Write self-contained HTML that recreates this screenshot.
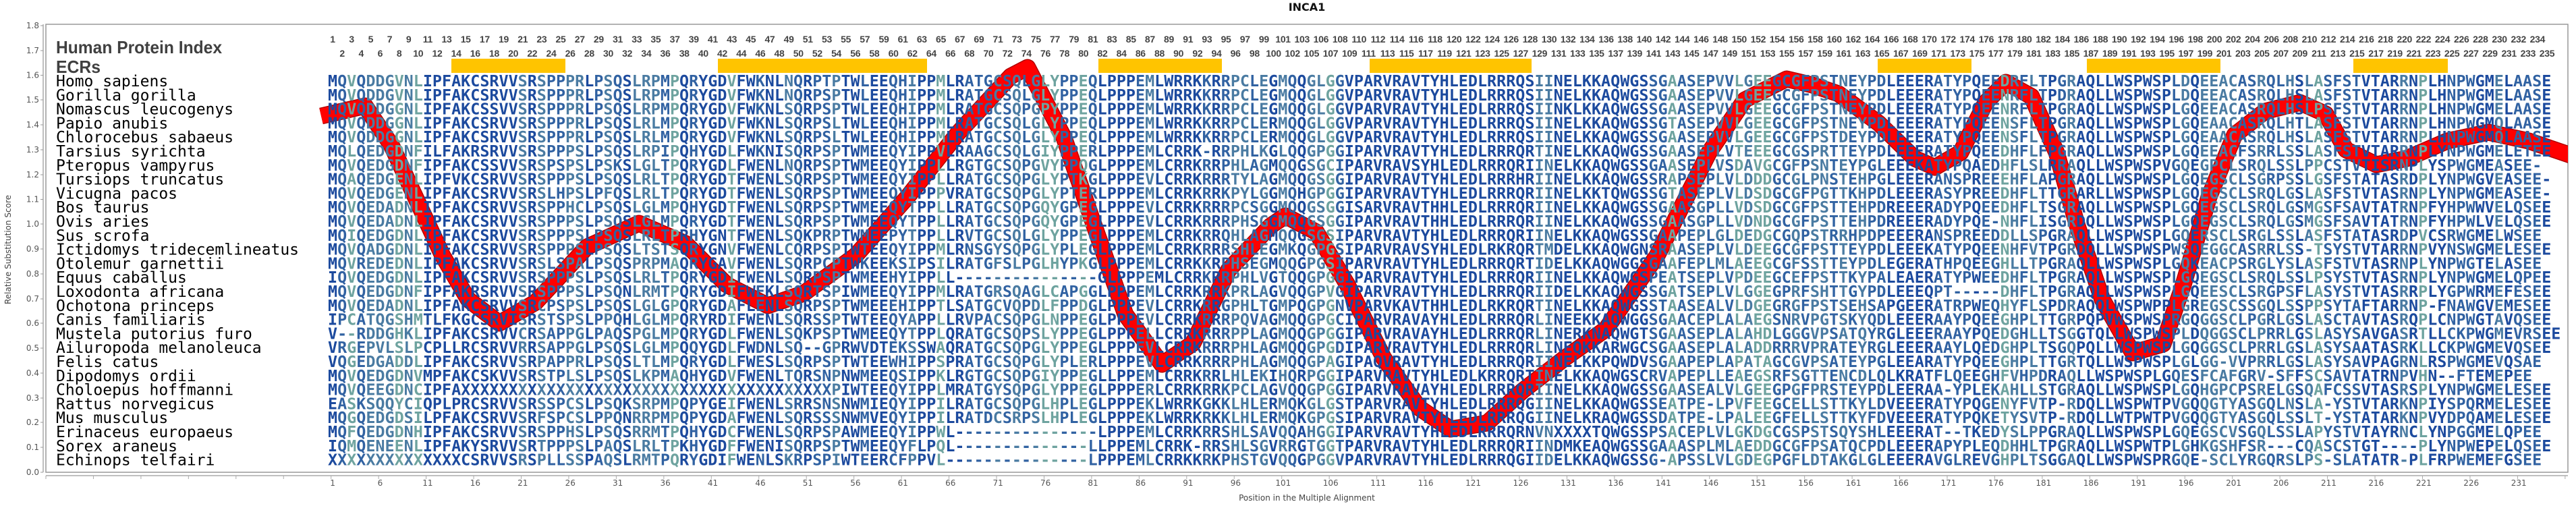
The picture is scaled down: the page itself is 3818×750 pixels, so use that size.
<!DOCTYPE html>
<html><head><meta charset="utf-8">
<style>
html,body{margin:0;padding:0;background:#fff;}
#wrap{position:relative;width:3818px;height:750px;overflow:hidden;background:#fff;}
svg{position:absolute;left:0;top:0;}
.idx{position:absolute;display:flex;font-family:"Liberation Sans Narrow","Liberation Sans",sans-serif;font-weight:bold;font-size:14px;color:#444;line-height:16px;}
.idx span{display:block;width:28.18px;text-align:center;flex:none;white-space:nowrap;letter-spacing:-0.3px;}
.xl{position:absolute;display:flex;top:709px;left:457.8px;font-family:"DejaVu Sans","Liberation Sans",sans-serif;font-size:12px;color:#555;line-height:14px;}
.xl span{display:block;width:70.45px;text-align:center;flex:none;}
</style></head><body><div id="wrap">
<svg width="3818" height="750" xmlns="http://www.w3.org/2000/svg">
<defs>
<linearGradient id="cg" gradientUnits="userSpaceOnUse" x1="486" y1="0" x2="3797" y2="0"></linearGradient>
<clipPath id="pc"><rect x="68" y="36" width="3738" height="664"/></clipPath>
</defs>
<text x="1937" y="16" text-anchor="middle" font-family="DejaVu Sans, Liberation Sans, sans-serif" font-weight="bold" font-size="16" fill="#111">INCA1</text>
<rect x="68" y="36" width="3738" height="664" fill="none" stroke="#999" stroke-width="1.5"/>
<line x1="64" y1="36" x2="64" y2="700" stroke="#aaa" stroke-width="1.5"/>
<line x1="68" y1="705" x2="3806" y2="705" stroke="#aaa" stroke-width="1.5"/>
<g stroke="#999" stroke-width="1">
<line x1="60" y1="38" x2="64" y2="38"/><line x1="60" y1="75" x2="64" y2="75"/><line x1="60" y1="111.5" x2="64" y2="111.5"/><line x1="60" y1="148" x2="64" y2="148"/><line x1="60" y1="185" x2="64" y2="185"/><line x1="60" y1="222" x2="64" y2="222"/><line x1="60" y1="259" x2="64" y2="259"/><line x1="60" y1="295.5" x2="64" y2="295.5"/><line x1="60" y1="332" x2="64" y2="332"/><line x1="60" y1="369" x2="64" y2="369"/><line x1="60" y1="406" x2="64" y2="406"/><line x1="60" y1="443" x2="64" y2="443"/><line x1="60" y1="479" x2="64" y2="479"/><line x1="60" y1="516" x2="64" y2="516"/><line x1="60" y1="553" x2="64" y2="553"/><line x1="60" y1="590" x2="64" y2="590"/><line x1="60" y1="626" x2="64" y2="626"/><line x1="60" y1="663" x2="64" y2="663"/><line x1="60" y1="700" x2="64" y2="700"/>
</g>
<g font-family="DejaVu Sans, Liberation Sans, sans-serif" font-size="12" fill="#555" text-anchor="end">
<text x="58" y="42">1.8</text><text x="58" y="79">1.7</text><text x="58" y="115.5">1.6</text><text x="58" y="152">1.5</text><text x="58" y="189">1.4</text><text x="58" y="226">1.3</text><text x="58" y="263">1.2</text><text x="58" y="299.5">1.1</text><text x="58" y="336">1.0</text><text x="58" y="373">0.9</text><text x="58" y="410">0.8</text><text x="58" y="447">0.7</text><text x="58" y="483">0.6</text><text x="58" y="520">0.5</text><text x="58" y="557">0.4</text><text x="58" y="594">0.3</text><text x="58" y="630">0.2</text><text x="58" y="667">0.1</text><text x="58" y="704">0.0</text>
</g>
<text transform="translate(16,370) rotate(-90)" text-anchor="middle" font-family="DejaVu Sans, Liberation Sans, sans-serif" font-size="12" fill="#444">Relative Substitution Score</text>
<text x="1937" y="742" text-anchor="middle" font-family="DejaVu Sans, Liberation Sans, sans-serif" font-size="12" fill="#444">Position in the Multiple Alignment</text>
<g id="xt" stroke="#aaa" stroke-width="1"></g>
<g fill="#ffc400">
<rect x="669" y="87" width="169" height="21"/>
<rect x="1064" y="87" width="310" height="21"/>
<rect x="1628" y="87" width="183" height="21"/>
<rect x="2030" y="87" width="240" height="21"/>
<rect x="2783" y="87" width="139" height="21"/>
<rect x="3093" y="87" width="198" height="21"/>
<rect x="3488" y="87" width="140" height="21"/>
</g>
<text x="83" y="79" font-family="Liberation Sans Narrow, Liberation Sans, sans-serif" font-weight="bold" font-size="26" fill="#404040" textLength="246" lengthAdjust="spacingAndGlyphs">Human Protein Index</text>
<text x="83" y="108" font-family="Liberation Sans Narrow, Liberation Sans, sans-serif" font-weight="bold" font-size="26" fill="#404040" textLength="66" lengthAdjust="spacingAndGlyphs">ECRs</text>
<g clip-path="url(#pc)">
<polyline fill="none" stroke="#b00000" stroke-width="25" stroke-linejoin="round" points="476,172 541,157 580,215 610,280 656,379 694,444 740,479 794,448 870,366 947,331 1016,361 1077,422 1138,453 1191,435 1268,379 1345,292 1421,196 1498,113 1523,100 1577,204 1622,335 1668,466 1722,540 1768,509 1821,400 1883,335 1905,320 1951,344 1997,422 2051,531 2104,605 2150,636 2204,627 2257,579 2319,531 2380,488 2456,379 2533,226 2586,148 2648,117 2686,126 2725,139 2785,183 2838,235 2868,248 2906,226 2943,152 2973,122 3011,143 3048,226 3079,335 3116,444 3161,523 3206,510 3236,422 3274,292 3312,200 3357,165 3409,152 3447,169 3477,222 3522,244 3567,235 3627,209 3688,196 3748,209 3810,230"/>
<polyline fill="none" stroke="#ff0000" stroke-width="22" stroke-linejoin="round" points="476,172 541,157 580,215 610,280 656,379 694,444 740,479 794,448 870,366 947,331 1016,361 1077,422 1138,453 1191,435 1268,379 1345,292 1421,196 1498,113 1523,100 1577,204 1622,335 1668,466 1722,540 1768,509 1821,400 1883,335 1905,320 1951,344 1997,422 2051,531 2104,605 2150,636 2204,627 2257,579 2319,531 2380,488 2456,379 2533,226 2586,148 2648,117 2686,126 2725,139 2785,183 2838,235 2868,248 2906,226 2943,152 2973,122 3011,143 3048,226 3079,335 3116,444 3161,523 3206,510 3236,422 3274,292 3312,200 3357,165 3409,152 3447,169 3477,222 3522,244 3567,235 3627,209 3688,196 3748,209 3810,230"/>
</g>
<text font-family="DejaVu Sans Mono, Liberation Mono, monospace" font-size="23" fill="#000">
<tspan x="83" y="128">Homo sapiens</tspan><tspan x="83" dy="20.8">Gorilla gorilla</tspan><tspan x="83" dy="20.8">Nomascus leucogenys</tspan><tspan x="83" dy="20.8">Papio anubis</tspan><tspan x="83" dy="20.8">Chlorocebus sabaeus</tspan><tspan x="83" dy="20.8">Tarsius syrichta</tspan><tspan x="83" dy="20.8">Pteropus vampyrus</tspan><tspan x="83" dy="20.8">Tursiops truncatus</tspan><tspan x="83" dy="20.8">Vicugna pacos</tspan><tspan x="83" dy="20.8">Bos taurus</tspan><tspan x="83" dy="20.8">Ovis aries</tspan><tspan x="83" dy="20.8">Sus scrofa</tspan><tspan x="83" dy="20.8">Ictidomys tridecemlineatus</tspan><tspan x="83" dy="20.8">Otolemur garnettii</tspan><tspan x="83" dy="20.8">Equus caballus</tspan><tspan x="83" dy="20.8">Loxodonta africana</tspan><tspan x="83" dy="20.8">Ochotona princeps</tspan><tspan x="83" dy="20.8">Canis familiaris</tspan><tspan x="83" dy="20.8">Mustela putorius furo</tspan><tspan x="83" dy="20.8">Ailuropoda melanoleuca</tspan><tspan x="83" dy="20.8">Felis catus</tspan><tspan x="83" dy="20.8">Dipodomys ordii</tspan><tspan x="83" dy="20.8">Choloepus hoffmanni</tspan><tspan x="83" dy="20.8">Rattus norvegicus</tspan><tspan x="83" dy="20.8">Mus musculus</tspan><tspan x="83" dy="20.8">Erinaceus europaeus</tspan><tspan x="83" dy="20.8">Sorex araneus</tspan><tspan x="83" dy="20.8">Echinops telfairi</tspan>
</text>
<text font-family="DejaVu Sans Mono, Liberation Mono, monospace" font-weight="bold" font-size="23.4" fill="url(#cg)" xml:space="preserve">
<tspan x="486" y="128">MQVQDDGVNLIPFAKCSRVVSRSPPPRLPSQSLRPMPQRYGDVFWKNLNQRPTPTWLEEQHIPPMLRATGCSQLGLYPPEQLPPPEMLWRRKKRRPCLEGMQQGLGGVPARVRAVTYHLEDLRRRQSIINELKKAQWGSSGAASEPVVLGEEGCGFPSTNEYPDLEEERATYPQEEDRFLTPGRAQLLWSPWSPLDQEEACASRQLHSLASFSTVTARRNPLHNPWGMELAASE</tspan>
<tspan x="486" dy="20.8">MQVQDDGVNLIPFAKCSRVVSRSPPPRLPSQSLRPMPQRYGDVFWKNLNQRPSPTWLEEQHIPPMLRATGCSQLGLYPPEQLPPPEMLWRRKKRRPCLEGMQQGLGGVPARVRAVTYHLEDLRRRQSIINELKKAQWGSSGAASEPVVLGEEGCGFPSTNEYPDLEEERATYPQEENRFLTPDRAQLLWSPWSPLDQEEACASRQLHSLASFSTVTARRNPLHNPWGMELAASE</tspan>
<tspan x="486" dy="20.8">MQVQDDGGNLIPFAKCSSVVSRSPPPRLPSQSLRPMPQRYGDVFWKNLSQRPSPTWLEEQHIPPMLRATGCSQPGPYPPEQLPPPEMLWRRKKRRPCLEGMQQGLGGVPARVRAVTYHLEDLRRRQSIINKLKKAQWGSSGAASEPVVLGEEGCGFPSTNEYPDLEEERATYPQEENRFLTPGRAQLLWSPWSPLGQEEACASRQLHSLPSFSTVTARRNPLHNPWGMELAASE</tspan>
<tspan x="486" dy="20.8">MQVQDDGGNLIPFAKCSRVVSRSPPPRLPSQSLRLMPQRYGDVFWKNLSQRPSLTWLEEQHIPPMLRATGCSQLGLYPPEQLPPPEMLWRRKKRRPCLERMQQGLGGVPARVRAVTYHLEDLRRRQSIINELKKAQWGSSGTASEPVVLGEEGCGFPSTNEYPDLEEERATYPQEENSFLTPGRAQLLWSPWSPLGQEAACASRQLHTLASFSTVTARRNPLHNPWGMQLAASE</tspan>
<tspan x="486" dy="20.8">MQVQDDGGNLIPFAKCSRVVSRSPPPRLPSQSLRLMPQRYGDVFWKNLSQRPSLTWLEEQHIPPMLRATGCSQLGLYPPEQLPPPEMLWRRKKRRPCLERMQQGLGGVPARVRAVTYHLEDLRRRQSIINELKKAQWGSSGAASEPVVLGEEGCGFPSTDEYPDLEEERATYPQEENSFLTPGRAQLLWSPWSPLGQEAACASRQLHSLASFSTVTARRNPLHNPWGMQLAASE</tspan>
<tspan x="486" dy="20.8">MQLQEDGDNFILFAKRSRVVSRSPPPSLPSQSLRPIPQHYGDLFWKNISQRPSPTWMEEQYIPPVLRAAGCSQLGIYPPERLPPPEMLCRRK-RRPHLKGLQQGPGGIPARVRAVTYHLEDLRRRQRTINELKKAQWGSSGAASEPLVTEEEGCGSPRTTEYPDLEEERATYPQEEDHFLFPGRAQLLWSPWSPLGQEEACFSRRLSSLASFSTVTARRNPLYNPWGMELETEE</tspan>
<tspan x="486" dy="20.8">MQVQEDGDNFIPFAKCSSVVSRSPSPSLPSKSLGLTPQRYGDLFWENLNQRPSPTWMEEQYIPPLLRGTGCSQPGVYPPQGLPPPEMLCRRKRRPHLAGMQQGSGCIPARVRAVSYHLEDLRRRQRIINELKKAQWGSSGAASEPLVSDAVGCGFPSNTEYPGLEEEKATYPQAEDHFLSLRRAQLLWSPWSPVGQEGPCLSRQLSSLPPCSTVTISRNPLYSPWGMEASEE-</tspan>
<tspan x="486" dy="20.8">MQAQEDGENLIPFVKCSRVVSRSPPPSLPSQSLRLTPQRYGDTFWENLSQRPSPTWMEEQYIPPLLRATGCSQPGLYPTKGLPPPEVLCRRKRRRTYLAGMQQGSGGIPARVRAVTYHLEDLRRRHRIINELKKAQWGSSRAPSEPLVLDDDGCGLPNSTEHPGLEEERANSPREEEHFLAPGRAQLLWSPWSPLGQEGSCLSGRPSSLGSFSTATASRDPLYNPWGVEASEE-</tspan>
<tspan x="486" dy="20.8">MQVQEDGENLIPFAKCSRVVSRSLHPSLPFQSLRLTPQRYGDTFWENLSQRPSPTWMEEQYIPPPVRATGCSQPGLYPTERLPPPEMLCRRKRRKPYLGGMQHGPGGIPARVRAVTYHLEDLRRRQRIINELKKTQWGSSGTASEPLVLDSDGCGFPGTTKHPDLEEERASYPREEDHFLTTGRARLLWSPWSPLGQEGSCLSRQLGSLASFSTVTASRNPLYNPWGMEASEE-</tspan>
<tspan x="486" dy="20.8">MQVQEDADNLIPFAKCSRVVSRSPPHCLPSQSLGLMPQHYGDTFWENLSQRPSPTWMEEQYTPPLLRATGCSQPGQYGPEGLPPPEVLCRRKRRRPCSGGMQQGSGGISARVRAVTHHLEDLRRRQRIINELKKAQWGSSGAASGPLLVDSDGCGFPSTTEHPDREEERADYPQEEDHFLTSGRAQLLWSPWSPLGQEGSCLSRQLGSMGSFSAVTATRNPFYHPWWVELQSEE</tspan>
<tspan x="486" dy="20.8">MQVQEDADNLIPFAKCSRVVSRSPPPSLPSQSLGLMPQRYGDTFWENLSQRPSPTWMEEQYTPPLLRATGCSQPGQYGPEGLPPPEVLCRRKRRRPHSGGMQQGSGGIPARVRAVTHHLEDLRRRQRIINELKKAQWGSSGAASGPLLVDNDGCGFPSTTEHPDREEERADYPQE-NHFLISGRDQLLWSPWSPLGQEGSCLSRQLGSMGSFSAVTATRNPFYHPWLVELQSEE</tspan>
<tspan x="486" dy="20.8">MQIQEDGDNLIPFAKCSRVVSRSPPPSLPSQSLRLTPRHYGNTFWENLSQKPRPTWMEEPYTPPLLRVTGCSQLGLYPPEGLPPPEMLCRRKRRQHLAGMQQGSGSIPARVRAVTYHLEDLRRRQRIINELKKAQWGSSGAAPEPLGLDEDGCGQPSTRRHPDPEEERANSPREEDDLLSPGRAQLLWSPWSPLGQERSCLSRGLSSLASFSTATASRDPVCSRWGMELWSEE</tspan>
<tspan x="486" dy="20.8">MQVQADGDNLIPFAKCSRVVSRSPPPSLPSQSLTSTSQRYGNVFWENLCQRPSPTWTEEQYIPPMLRNSGYSQPGLYPLEGLPPPEMLCRRKRRRSHLEGMKQGPGSIPARVRAVSYHLEDLRKRQRTMDELKKAQWGNSRAASEPLVLDEEGCGFPSTTEYPDLEEEKATYPQEENHFVTPGRDQLLWSPWSPWSQEGGCASRRLSS-TSYSTVTARRNPVYNSWGMELESEE</tspan>
<tspan x="486" dy="20.8">MQVREDEDNLIPFAKCSRVVSRSLSPALPSQSPRPMAQRYGAVFWENLSQRPCPTWKEEKSIPSILRATGFSLPGLHYPKGLPPPEMLCRRKKRPHSEGMQQGPGSIPARVRAVTYHLEDLRRRQRTIDELKKAQWGGSGAAFEPLMLAEEGCGFSSTTEYPDLEGERATHPQEEGHLLTPGRAQLLWSPWSPLGQKEACPSRGLYSLASFSTVTASRNPLYNPWGTELASEE</tspan>
<tspan x="486" dy="20.8">IQVQEDGDNLIPFAKCSRVVSRSPPPSLPSQSLRLTPQRYGDIFWENLSQRPSPTWMEEHYIPPLL---------------GLPPPEMLCRRKRRPHLVGTQQGPGGIPARVRAVTYHLEDLRRRQRIINELKKAQWGSPEATSEPLVPDEEGCEFPSTTKYPALEAERATYPWEEDHFLTPGRAQLLWSPWSPLGQEGSCLSRQLSSLPSYSTVTASRNPLYNPWGMELQPEE</tspan>
<tspan x="486" dy="20.8">MQVQEDGDNFIPFAKRSRVVSRSPPPSLPSQNLRMTPQRYGDIFWEKLSQRTSPIWMEEQYIPPMLRATGRSQAGLCAPGGLPPPEMLCRRKRRKPRLAGVQQGPVGIPARVRAVTYHLEDLRRRQRIIDELKKAQWGSSGATSEPLVLGGEGPRFSHTTGYPDLEEEQPT-----DHFLTPGRAQLLWSPWSPLGQEESCLSRGPSFLASYSTVTASRRPLYGPWRMEFESEE</tspan>
<tspan x="486" dy="20.8">MQVQEDADNLIPFAKCSRVVSRCPSPSLPSQSLGLGPQRYGDAFLENLSQRPSPTWMEEEHIPPTLSATGCVQPDLFPPDGLPPPEVLCRRKRRGPHLTGMPQGPGNVPARVKAVTHHLEDLRKRQRTINELKKAQWGSSTAASEALVLDGEGRGFPSTSEHSAPGEERATRPWEQHYFLSPDRAQQLWSPWPPLGREGSCSSGQLSSPPSYTAFTARRNP-FNAWGVEMESEE</tspan>
<tspan x="486" dy="20.8">IPCATQGSHMTLFKGCSRVISRSTSPSLPPQHLGLMPQRYRDIFWENLSQRSSPTWTEEQYAPPLLRVPACSQPGLNPPEGLPPPEVLCRRKRRRPQVAGMQQGPGCIPARVRAVAYHLEDLRRRQRLINEEKKAQWGGSGAACEPLALAEGSNRVPGTSKYQDLEEERAAYPQEEGHPLTTGRPQPVWSPWSPRGQGGSCLPGRLGSLASCTAVTASRQPLCNPWGTAVQSEE</tspan>
<tspan x="486" dy="20.8">V--RDDGHKLIPFAKCSRVVCRSAPPGLPAQSPGLMPQRYGDLFWENLSQKPSPTWMEEQYTPPLQRATGCSQPSLYPPEGLPPPELLCRRKRRRPPLAGMQQGPGGIPARVRAVAYHLEDLRRRQRLINERKNAQWGTSGAASEPLALAHDLGGGVPSATQYRGLEEERAAYPQEDGHLLTSGGTQLLWSPWSPLDQGGSCLPRRLGSLASYSAVGASRTLLCKPWGMEVRSEE</tspan>
<tspan x="486" dy="20.8">VRGEPVLSLPCPLLRCSRVVRRSAPPGLPSQSLGLMPQQYGDLFWDNLSQ--GPRWVDTEKSSWAQRATGCSQPGLYPPEGLPPPEVLCRRKRRRPHLAGMQQGPGDIPARVRAVTYHLEDLRRRQRLINEQKKARWGCSGAASEPLALADDRRRVPRATEYRGLEEERAAYLQEDGHPLTSGQPQLLWSPWSPLGQGGSCLPRRLGSLASYSAATASRKLLCKPWGMEVQSEE</tspan>
<tspan x="486" dy="20.8">VQGEDGADDLIPFAKCSRVVSRPAPPRLPSQSLTLMPQRYGDLFWESLSQRPSPTWTEEWHIPPSPRATGCSQPGLYPLERLPPPEVLCRRKRRRPHLAGMQQGPAGIPAQVRAVTYHLEDLRRRQRIINELKKPQWDVSGAAPEPLAPATAGCGVPSATEYPGLEEARATYPQEEGHPLTTGRTQLLWSPWSPLGLGG-VVPRRLGSLASYSAVPAGRNLRSPWGMEVQSAE</tspan>
<tspan x="486" dy="20.8">MQVQEDGDNVMPFAKCSKVVSRSTPLSLPSQSLKPMAQHYGDVFWENLTQRSNPNWMEEQSIPPKLRGTGCSQPGIYPPEGLLPPEMLCRRKRRLHLEKIHQRPGGIPARVRAVTYHLEDLKRRQRTINELKKAQWGSCRVAPEPLLEAEGSRFSGTTENCDLQLKRATFLQEEGHFVHPDRAQLLWSPWSPLGQESFCAFGRV-SFFSCSAVTATRNPVHN--FTEMEPEE</tspan>
<tspan x="486" dy="20.8">MQVQEEGDNCIPFAXXXXXXXXXXXXXXXXXXXXXXXXXXXXXXXXXXXXXXXPIWTEEQYIPPLMRATGYSQPGLYPPEGLPPPERLCRRKRRKPCLAGVQQGPGGIPARVRAVAYHLEDLRRRQRIINELKKAQWGSSGAASEALVLGEEGPGFPRSTEYPDLEERAA-YPLEKAHLLSTGRAQLLWSPWSPLGQHGPCPSRELGSQAFCSSVTASRSPLYNPWGMELESEE</tspan>
<tspan x="486" dy="20.8">EASKSQQYCIQPLPRCSRVVSRSSPCSLPSQKSRPMPQPYGEIFWENLSRRSNSNWMIEQYIPPILRATGCSQPGLHPLEGLPPPEKLWRRKGKKLHLERMQKGLGSTPARVRAVTYHLEDLRRRQGIINELKKAQWGSSEATPE-LPVFEEGCELLSTTKYLDVEEERATYPQGENYFVTP-RDQLLWSPWTPVGQQGTYASGQLNSLA-YSTVTARKNPIYSPQRMELESEE</tspan>
<tspan x="486" dy="20.8">MQGQEDGDSILPFAKCSRVVSRFSPCSLPPQNRRPMPQPYGDAFWENLSQRSSSNWMVEQYIPPILRATDCSRPSLHPLEGLPPPEKLWRRKRKKLHLERMQKGPGSIPARVRAVTYHLEDLRRRQGIINELKRAQWGSSDATPE-LPALEEGFELLSTTKYFDVEEERATYPQKETYSVTP-RDQLLWTPWTPVGQQGTYASGQLSSLT-YSTATARKNPVYDPQAMELESEE</tspan>
<tspan x="486" dy="20.8">MQFQEDGDNHIPFAKCSRVVSRSPPHSLPSQSRRMTPQHYGDCFWENLSQRPSPAWMEEQYIPPWL---------------LPPPEMLCRRKRRSHLSAVQQAHGGIPARVRAVTYHLEDLRRRQRNVNXXXXTQWGSSPSACEPLVLGKDGCGSPSTSQYSHLEEERAT--TKEDYSLPPGRAQLLWSPWSPLGQEGSCVSGQLSSLAPYSTVTAYRNCLYNPGGMELQPEE</tspan>
<tspan x="486" dy="20.8">IQMQENEENLIPFAKYSRVVSRTPPPSLPAQSLRLTPKHYGDFFWENISQRPSPTWMEEQYFLPQL--------------LLPPEMLCRRK-RRSHLSGVRRGTGGTPARVRAVTYHLEDLRRRQRIINDMKEAQWGSSGAAASPLMLAEDDGCGFPSATQCPDLEEERAPYPLEQDHHLTPGRAQLLWSPWTPLGHKGSHFSR---CQASCSTGT----PLYNPWEPELQSEE</tspan>
<tspan x="486" dy="20.8">XXXXXXXXXXXXXXCSRVVSRSPLLSSPAQSLRMTPQRYGDIFWENLSKRPSPIWTEERCFPPVL---------------LPPPEMLCRRKKRKPHSTGVQQGPGGVPARVRAVTYHLEDLRRRQGIIDELKKAQWGSSG-APSSLVLGDEGPGFLDTAKGLGLEEERAVGLREVGHPLTSGGAQLLWSPWSPRGQE-SCLYRGQRSLPS-SLATATR-PLFRPWEMEFGSEE</tspan>
</text>
</svg>
<div class="idx" style="left:478.9px;top:50px;"><span>1</span><span>3</span><span>5</span><span>7</span><span>9</span><span>11</span><span>13</span><span>15</span><span>17</span><span>19</span><span>21</span><span>23</span><span>25</span><span>27</span><span>29</span><span>31</span><span>33</span><span>35</span><span>37</span><span>39</span><span>41</span><span>43</span><span>45</span><span>47</span><span>49</span><span>51</span><span>53</span><span>55</span><span>57</span><span>59</span><span>61</span><span>63</span><span>65</span><span>67</span><span>69</span><span>71</span><span>73</span><span>75</span><span>77</span><span>79</span><span>81</span><span>83</span><span>85</span><span>87</span><span>89</span><span>91</span><span>93</span><span>95</span><span>97</span><span>99</span><span>101</span><span>103</span><span>106</span><span>108</span><span>110</span><span>112</span><span>114</span><span>116</span><span>118</span><span>120</span><span>122</span><span>124</span><span>126</span><span>128</span><span>130</span><span>132</span><span>134</span><span>136</span><span>138</span><span>140</span><span>142</span><span>144</span><span>146</span><span>148</span><span>150</span><span>152</span><span>154</span><span>156</span><span>158</span><span>160</span><span>162</span><span>164</span><span>166</span><span>168</span><span>170</span><span>172</span><span>174</span><span>176</span><span>178</span><span>180</span><span>182</span><span>184</span><span>186</span><span>188</span><span>190</span><span>192</span><span>194</span><span>196</span><span>198</span><span>200</span><span>202</span><span>204</span><span>206</span><span>208</span><span>210</span><span>212</span><span>214</span><span>216</span><span>218</span><span>220</span><span>222</span><span>224</span><span>226</span><span>228</span><span>230</span><span>232</span><span>234</span></div>
<div class="idx" style="left:493px;top:71px;"><span>2</span><span>4</span><span>6</span><span>8</span><span>10</span><span>12</span><span>14</span><span>16</span><span>18</span><span>20</span><span>22</span><span>24</span><span>26</span><span>28</span><span>30</span><span>32</span><span>34</span><span>36</span><span>38</span><span>40</span><span>42</span><span>44</span><span>46</span><span>48</span><span>50</span><span>52</span><span>54</span><span>56</span><span>58</span><span>60</span><span>62</span><span>64</span><span>66</span><span>68</span><span>70</span><span>72</span><span>74</span><span>76</span><span>78</span><span>80</span><span>82</span><span>84</span><span>86</span><span>88</span><span>90</span><span>92</span><span>94</span><span>96</span><span>98</span><span>100</span><span>102</span><span>105</span><span>107</span><span>109</span><span>111</span><span>113</span><span>115</span><span>117</span><span>119</span><span>121</span><span>123</span><span>125</span><span>127</span><span>129</span><span>131</span><span>133</span><span>135</span><span>137</span><span>139</span><span>141</span><span>143</span><span>145</span><span>147</span><span>149</span><span>151</span><span>153</span><span>155</span><span>157</span><span>159</span><span>161</span><span>163</span><span>165</span><span>167</span><span>169</span><span>171</span><span>173</span><span>175</span><span>177</span><span>179</span><span>181</span><span>183</span><span>185</span><span>187</span><span>189</span><span>191</span><span>193</span><span>195</span><span>197</span><span>199</span><span>201</span><span>203</span><span>205</span><span>207</span><span>209</span><span>211</span><span>213</span><span>215</span><span>217</span><span>219</span><span>221</span><span>223</span><span>225</span><span>227</span><span>229</span><span>231</span><span>233</span><span>235</span></div>
<div class="xl"><span>1</span><span>6</span><span>11</span><span>16</span><span>21</span><span>26</span><span>31</span><span>36</span><span>41</span><span>46</span><span>51</span><span>56</span><span>61</span><span>66</span><span>71</span><span>76</span><span>81</span><span>86</span><span>91</span><span>96</span><span>101</span><span>106</span><span>111</span><span>116</span><span>121</span><span>126</span><span>131</span><span>136</span><span>141</span><span>146</span><span>151</span><span>156</span><span>161</span><span>166</span><span>171</span><span>176</span><span>181</span><span>186</span><span>191</span><span>196</span><span>201</span><span>206</span><span>211</span><span>216</span><span>221</span><span>226</span><span>231</span></div>
</div>
<script>
(function(){
var cs="dmtmssstst"+"dddddddddd"+"sdsmmssdms"+"mdsssmtdmd"+"ddtddmddsm"+"dmmsddmddm"+"msddtddmmm"+"smsmsttmmtm"+"ddddmsdddddmd"+"mssmsdsmdsstmdddd"+"dddddddddddddddd"+"ssddddddddddmm"+"tmmsmsmtst"+"tmmsmssmsmsm"+"mdddddmmmmdm"+"mtsmsmdmsdd"+"ddddddddmsdsss"+"smmsmmsdstmmmm"+"ddddsdtddmmmddsdmmmdd";
var col={d:"#1c4a9e",m:"#3162a2",s:"#4a7ba2",t:"#6ea39f"};
var g=document.getElementById("cg"),ns="http://www.w3.org/2000/svg",n=cs.length;
for(var i=0;i<n;i++){for(var k=0;k<2;k++){var s=document.createElementNS(ns,"stop");s.setAttribute("offset",((i+k)/n).toFixed(5));s.setAttribute("stop-color",col[cs[i]]);g.appendChild(s);}}
var xt=document.getElementById("xt");
for(var j=0;j<54;j++){var x=68+j*70.45;if(x>3806)break;var l=document.createElementNS(ns,"line");l.setAttribute("x1",x);l.setAttribute("x2",x);l.setAttribute("y1",705);l.setAttribute("y2",710);xt.appendChild(l);}
})();
</script>
</body></html>
